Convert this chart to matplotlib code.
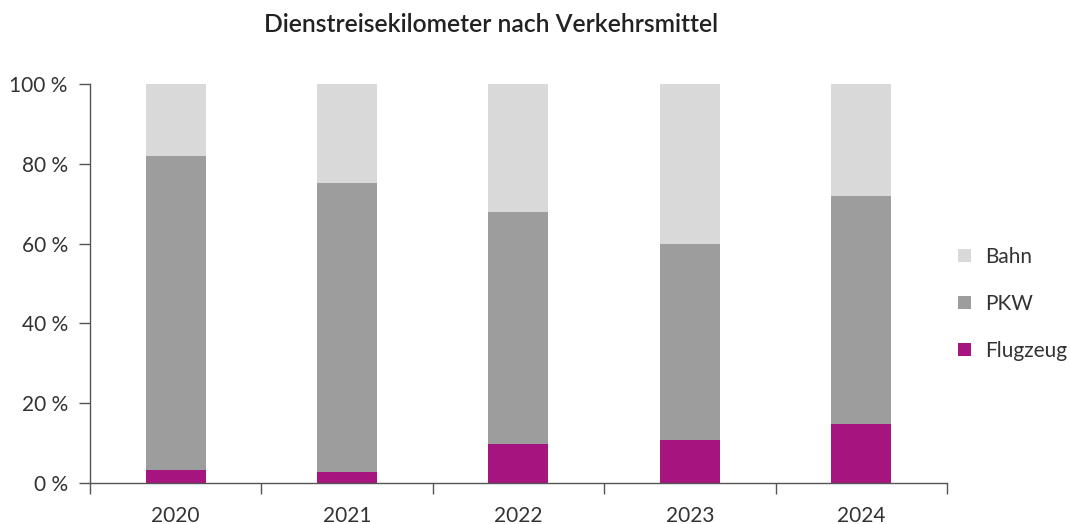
import matplotlib.pyplot as plt
import numpy as np

# Anteile der Dienstreisekilometer in Prozent
years     = ['2020', '2021', '2022', '2023', '2024']
flugzeug  = [3.3, 2.8, 9.9, 10.8, 14.9]
pkw       = [78.5, 72.3, 57.9, 49.0, 56.9]
bahn      = [18.2, 24.9, 32.2, 40.2, 28.2]

C_BAHN = '#d9d9d9'
C_PKW  = '#9c9d9c'
C_FLUG = '#a6147f'
TXT    = '#333333'

plt.rcParams['font.family'] = ['Lato', 'DejaVu Sans']

fig = plt.figure(figsize=(10.7, 5.24), dpi=100)
ax = fig.add_axes([0.0841, 0.0777, 0.8009, 0.7626])

x = np.arange(len(years))
w = 0.35
fl = np.array(flugzeug)
pk = np.array(pkw)
ba = np.array(bahn)
b1 = ax.bar(x, fl, w, color=C_FLUG, label='Flugzeug')
b2 = ax.bar(x, pk, w, bottom=fl, color=C_PKW, label='PKW')
b3 = ax.bar(x, ba, w, bottom=fl + pk, color=C_BAHN, label='Bahn')

ax.set_xlim(-0.5, len(years) - 0.5)
ax.set_ylim(0, 100)

ax.set_yticks(range(0, 101, 20))
ax.set_yticklabels([f'{v} %' for v in range(0, 101, 20)])
ax.set_xticks(x)
ax.set_xticklabels(years)
ax.set_xticks(np.arange(-0.5, len(years)), minor=True)
ax.tick_params(axis='x', which='major', length=0, pad=16, labelsize=15, labelcolor=TXT)
ax.tick_params(axis='x', which='minor', length=8, width=1, color='#555555')
ax.tick_params(axis='y', length=8, width=1, color='#555555', pad=8, labelsize=15, labelcolor=TXT)

for s in ['top', 'right']:
    ax.spines[s].set_visible(False)
for s in ['left', 'bottom']:
    ax.spines[s].set_color('#555555')
    ax.spines[s].set_linewidth(1)

ax.legend(handles=[b3, b2, b1], loc='center left', bbox_to_anchor=(0.878, 0.42),
          bbox_transform=fig.transFigure, frameon=False, fontsize=15,
          handlelength=0.6, handleheight=0.6, handletextpad=0.7,
          labelspacing=1.3, labelcolor=TXT)

fig.text(491 / 1070, 1 - 24 / 524, 'Dienstreisekilometer nach Verkehrsmittel',
         ha='center', va='center', fontsize=17.7, fontweight='semibold', color='#222222')

fig.savefig('out.png', dpi=100)
